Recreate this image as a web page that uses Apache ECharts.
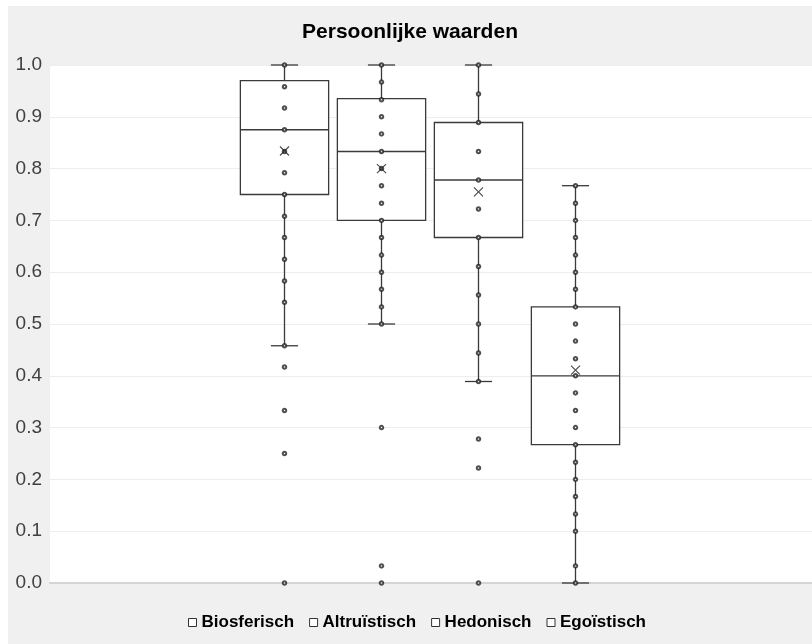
<!DOCTYPE html>
<html lang="nl">
<head>
    <meta charset="UTF-8">
    <title>Persoonlijke waarden</title>
    <style>
        html, body { margin: 0; padding: 0; background: #fff; }
        #main { position: absolute; left: 8px; top: 6px; width: 804px; height: 638px; }
    </style>
</head>
<body>
<div id="main"></div>
<script src="https://cdn.jsdelivr.net/npm/echarts@6/dist/echarts.min.js"></script>
<script>
    // groepen
    var categories = ['Biosferisch', 'Altruïstisch', 'Hedonisch', 'Egoïstisch'];

    var whiskerLow  = [0.458, 0.5,   0.389, 0.0];
    var quartile1   = [0.75,  0.7,   0.667, 0.267];
    var median      = [0.875, 0.833, 0.778, 0.4];
    var quartile3   = [0.97,  0.935, 0.889, 0.533];
    var whiskerHigh = [1.0,   1.0,   1.0,   0.767];
    var means       = [0.834, 0.80,  0.755, 0.411];

    // losse waarnemingen per groep
    var bioPoints = [1.0, 0.958, 0.917, 0.875, 0.833, 0.792, 0.75, 0.708, 0.667, 0.625, 0.583, 0.542,
        0.458, 0.417, 0.333, 0.25, 0.0];
    var altPoints = [1.0, 0.967, 0.933, 0.9, 0.867, 0.833, 0.8, 0.767, 0.733, 0.7, 0.667, 0.633, 0.6,
        0.567, 0.533, 0.5, 0.3, 0.033, 0.0];
    var hedPoints = [1.0, 0.944, 0.889, 0.833, 0.778, 0.722, 0.667, 0.611, 0.556, 0.5, 0.444, 0.389,
        0.278, 0.222, 0.0];
    var egoPoints = [0.767, 0.733, 0.7, 0.667, 0.633, 0.6, 0.567, 0.533, 0.5, 0.467, 0.433, 0.4, 0.367,
        0.333, 0.3, 0.267, 0.233, 0.2, 0.167, 0.133, 0.1, 0.033, 0.0];
    var pointGroups = [bioPoints, altPoints, hedPoints, egoPoints];

    var yTicks = [0, 0.1, 0.2, 0.3, 0.4, 0.5, 0.6, 0.7, 0.8, 0.9, 1.0];

    var lineColor = '#3a3a3a';
    var fontFamily = '"Liberation Sans", Arial, sans-serif';

    // box met snorharen zoals in Excel (korte dwarsstreepjes)
    function renderBox(params, api) {
        var x = api.value(0);
        var lo = api.coord([x, api.value(1)]);
        var q1 = api.coord([x, api.value(2)]);
        var md = api.coord([x, api.value(3)]);
        var q3 = api.coord([x, api.value(4)]);
        var hi = api.coord([x, api.value(5)]);
        var band = api.size([1, 0])[0];
        var bw = band * 0.91;
        var cw = band * 0.28;
        var cx = lo[0];
        var st = { stroke: lineColor, lineWidth: 1.3, fill: null };
        return {
            type: 'group',
            children: [
                { type: 'line', shape: { x1: cx, y1: hi[1], x2: cx, y2: q3[1] }, style: st },
                { type: 'line', shape: { x1: cx, y1: q1[1], x2: cx, y2: lo[1] }, style: st },
                { type: 'line', shape: { x1: cx - cw / 2, y1: hi[1], x2: cx + cw / 2, y2: hi[1] }, style: st },
                { type: 'line', shape: { x1: cx - cw / 2, y1: lo[1], x2: cx + cw / 2, y2: lo[1] }, style: st },
                { type: 'rect', shape: { x: cx - bw / 2, y: q3[1], width: bw, height: q1[1] - q3[1] },
                    style: { fill: '#fff', stroke: lineColor, lineWidth: 1.3 } },
                { type: 'line', shape: { x1: cx - bw / 2, y1: md[1], x2: cx + bw / 2, y2: md[1] }, style: st }
            ]
        };
    }

    var series = [];
    categories.forEach(function (name, i) {
        series.push({
            name: name,
            type: 'custom',
            xAxisIndex: 1,
            yAxisIndex: 1,
            renderItem: renderBox,
            itemStyle: { color: '#fff', borderColor: lineColor },
            encode: { x: 0, y: [1, 2, 3, 4, 5] },
            data: [[i, whiskerLow[i], quartile1[i], median[i], quartile3[i], whiskerHigh[i]]],
            z: 2
        });
    });
    pointGroups.forEach(function (pts, i) {
        series.push({
            type: 'scatter',
            xAxisIndex: 1,
            yAxisIndex: 1,
            symbol: 'emptyCircle',
            symbolSize: 3.5,
            itemStyle: { color: '#222', borderWidth: 0.9 },
            silent: true,
            z: 4,
            data: pts.map(function (v) { return [i, v]; })
        });
    });
    series.push({
        type: 'scatter',
        xAxisIndex: 1,
        yAxisIndex: 1,
        symbol: 'path://M0,0L10,10M10,0L0,10',
        symbolSize: 9,
        itemStyle: { color: 'none', borderColor: '#222', borderWidth: 1.2 },
        silent: true,
        z: 5,
        data: means.map(function (v, i) { return [i, v]; })
    });

    var option = {
        backgroundColor: '#f0f0f0',
        animation: false,
        title: {
            text: 'Persoonlijke waarden',
            left: 'center',
            top: 11,
            textStyle: { fontSize: 21, fontWeight: 'bold', color: '#000', fontFamily: fontFamily }
        },
        legend: {
            data: categories,
            left: 175,
            top: 603,
            icon: 'rect',
            itemWidth: 8,
            itemHeight: 8,
            itemGap: 15,
            itemStyle: { color: '#fff', borderColor: '#333', borderWidth: 1 },
            textStyle: { fontSize: 17, fontWeight: 'bold', color: '#000', fontFamily: fontFamily }
        },
        grid: [
            { left: 42, top: 59, right: 0, bottom: 61, show: true, backgroundColor: '#fff', borderWidth: 0 },
            { left: 228, top: 59, width: 388, bottom: 61 }
        ],
        xAxis: [
            { type: 'category', gridIndex: 0, data: [''],
                axisLine: { show: true, lineStyle: { color: '#d4d4d4', width: 2 } },
                axisTick: { show: false }, axisLabel: { show: false } },
            { type: 'category', gridIndex: 1, data: categories,
                axisLine: { show: false }, axisTick: { show: false }, axisLabel: { show: false } }
        ],
        yAxis: [
            { type: 'value', gridIndex: 0, min: yTicks[0], max: yTicks[yTicks.length - 1], interval: 0.1,
                axisLine: { show: false }, axisTick: { show: false },
                axisLabel: { margin: 8, fontSize: 19, color: '#404040', fontFamily: fontFamily,
                    formatter: function (v) { return v.toFixed(1); } },
                splitLine: { lineStyle: { color: '#eeeeee', width: 1 } } },
            { type: 'value', gridIndex: 1, min: 0, max: 1, interval: 0.1,
                axisLine: { show: false }, axisTick: { show: false }, axisLabel: { show: false },
                splitLine: { show: false } }
        ],
        series: series
    };

    var chart = echarts.init(document.getElementById('main'));
    chart.setOption(option);
</script>
</body>
</html>
